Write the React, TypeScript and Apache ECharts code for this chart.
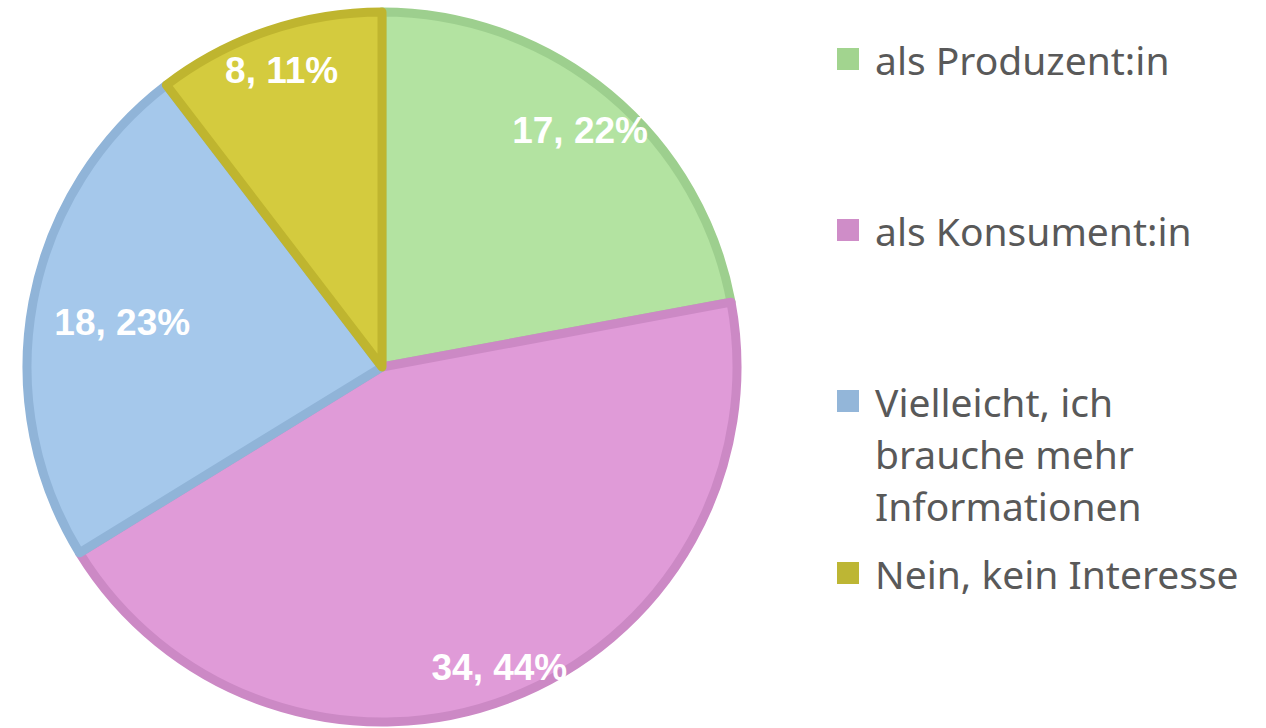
import React, { useEffect, useRef } from "react";
import * as echarts from "echarts";

const categories = [
  "als Produzent:in",
  "als Konsument:in",
  "Vielleicht, ich\nbrauche mehr\nInformationen",
  "Nein, kein Interesse",
];
const values = [17, 34, 18, 8];
const fillColors = ["#b3e3a1", "#e09bd8", "#a5c8eb", "#d4cb3e"];
const borderColors = ["#9dcf8e", "#cc89c5", "#90b4d8", "#bfb52f"];
const legendIconColors = ["#a2d48f", "#cf8dc8", "#93b6d9", "#bdb634"];
const labelOffsets = [[-2, 4], [5, 8], [48, 13], [0, 0]];
const legendTops = [33, 204, 271, 547];

export default function App() {
  const ref = useRef<HTMLDivElement>(null);
  useEffect(() => {
    if (!ref.current) return;
    const chart = echarts.init(ref.current, undefined, { renderer: "svg" });
    const center = [382, 367];
    const legends = categories.map((name, i) => ({
      orient: "vertical",
      left: 837,
      top: legendTops[i],
      padding: 0,
      itemWidth: 22,
      itemHeight: 22,
      icon: "rect",
      selectedMode: false,
      data: [name],
      formatter: (n: string) => (n.indexOf("\n") >= 0 ? "\n\n" + n : n),
      itemStyle: { color: legendIconColors[i], borderWidth: 0 },
      textStyle: {
        fontFamily: "Noto Sans",
        fontSize: 39,
        color: "#595959",
        lineHeight: 52,
        padding: [0, 0, 0, 11],
      },
    }));
    chart.setOption({
      animation: false,
      legend: legends,
      series: [
        {
          type: "pie",
          center,
          radius: [0, 355],
          startAngle: 90,
          clockwise: true,
          silent: true,
          label: { show: false },
          labelLine: { show: false },
          data: categories.map((name, i) => ({
            name,
            value: values[i],
            itemStyle: {
              color: fillColors[i],
              borderColor: borderColors[i],
              borderWidth: 9,
              borderJoin: "round",
            },
          })),
        },
        {
          type: "pie",
          center,
          radius: [0, 620],
          startAngle: 90,
          clockwise: true,
          silent: true,
          percentPrecision: 0,
          emphasis: { disabled: true },
          labelLine: { show: false },
          label: {
            show: true,
            position: "inside",
            formatter: "{c}, {d}%",
            color: "#ffffff",
            fontFamily: "Liberation Sans",
            fontWeight: "bold",
            fontSize: 37,
          },
          data: categories.map((name, i) => ({
            name,
            value: values[i],
            itemStyle: { color: "transparent", borderWidth: 0 },
            label: { offset: labelOffsets[i] },
          })),
        },
      ],
    });
    return () => chart.dispose();
  }, []);
  return (
    <div
      ref={ref}
      style={{ position: "absolute", left: 0, top: 0, width: 1266, height: 728 }}
    />
  );
}
